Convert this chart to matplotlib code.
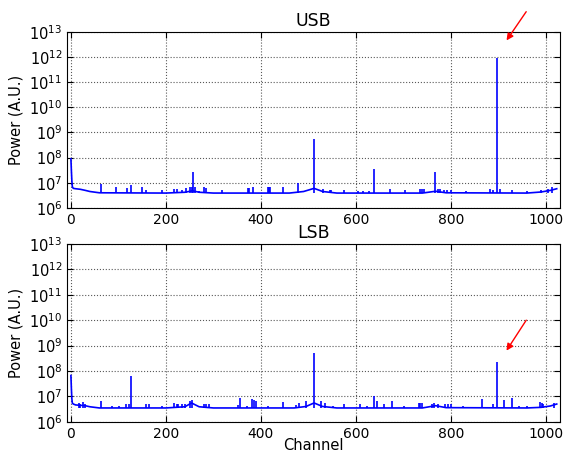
import numpy as np
import matplotlib; matplotlib.use('Agg'); import matplotlib.pyplot as plt

plt.rcParams.update({'font.size':10,'axes.titlesize':12.5,'axes.labelsize':10.5,
                     'xtick.labelsize':10,'ytick.labelsize':10.5,
                     'xtick.direction':'in','ytick.direction':'in',
                     'xtick.top':True,'ytick.right':True,
                     'xtick.major.size':4,'ytick.major.size':4,
                     'ytick.minor.size':2,'xtick.minor.size':2})

# baseline (slowly varying noise floor) knots, channel vs power
usb_base_ch = [0, 1, 2, 3, 5, 10, 20, 30, 40, 60, 200, 240, 256, 270, 300,
               460, 490, 512, 530, 560, 740, 768, 790, 960, 990, 1010, 1023]
usb_base_pw = [9e7, 3e7, 1.2e7, 7e6, 6e6, 5.8e6, 5.5e6, 5e6, 4.5e6, 4e6, 3.9e6, 4.2e6, 4.8e6, 4.2e6, 3.9e6,
               3.9e6, 4.5e6, 6e6, 4.5e6, 3.9e6, 3.9e6, 4.6e6, 4e6, 3.9e6, 4.3e6, 5e6, 5.8e6]
# narrow spikes, channel vs peak power
usb_spike_ch = [63, 94, 118, 126, 150, 159, 191, 218, 223, 233, 242, 250, 254, 258, 262, 269,
                281, 284, 319, 372, 375, 384, 414, 417, 420, 447, 479, 512, 530, 545, 548,
                576, 605, 615, 628, 639, 671, 704, 735, 739, 744, 767, 772, 778, 785, 792, 800,
                833, 882, 889, 897, 903, 929, 961, 990, 1004, 1014]
usb_spike_pw = [8.8e6, 7e6, 6e6, 8e6, 7e6, 5e6, 5e6, 5.5e6, 5.5e6, 5e6, 6e6, 6.5e6, 6.5e6, 2.8e7, 6.5e6, 4.8e6,
                6.5e6, 6e6, 5e6, 6e6, 6e6, 7e6, 6.5e6, 6.5e6, 6.5e6, 6.5e6, 9.6e6, 5.5e8, 5.5e6, 5e6, 5e6,
                5e6, 4.8e6, 4.8e6, 4.8e6, 3.5e7, 5.5e6, 5e6, 5.5e6, 5.5e6, 5.5e6, 2.6e7, 5.8e6, 5.5e6, 5.2e6, 5e6, 5e6,
                4.8e6, 5.5e6, 5e6, 9e11, 5.5e6, 5e6, 4.8e6, 5.2e6, 5.6e6, 6.8e6]
usb_floor = 3.9e6

lsb_base_ch = [0, 1, 2, 3, 5, 10, 30, 40, 60, 200, 240, 254, 270, 300,
               470, 495, 512, 530, 560, 740, 768, 790, 960, 990, 1010, 1023]
lsb_base_pw = [6.6e7, 2e7, 8e6, 5.5e6, 5e6, 4.6e6, 4.3e6, 3.9e6, 3.5e6, 3.5e6, 3.9e6, 5.5e6, 3.9e6, 3.5e6,
               3.5e6, 4e6, 5.5e6, 4e6, 3.5e6, 3.5e6, 4.3e6, 3.6e6, 3.5e6, 3.7e6, 4.2e6, 5e6]
lsb_spike_ch = [17, 20, 25, 30, 63, 86, 101, 116, 122, 126, 159, 165, 191, 218, 223, 226, 233, 240,
                251, 254, 281, 285, 290, 351, 356, 370, 382, 386, 389, 416, 447, 473, 480, 495,
                512, 527, 536, 551, 576, 608, 624, 639, 644, 659, 676, 702, 733, 736, 740,
                760, 765, 772, 787, 794, 801, 826, 865, 889, 898, 913, 929, 943, 961, 987, 991, 995, 1018]
lsb_spike_pw = [5.5e6, 5e6, 5.8e6, 5e6, 6.3e6, 4e6, 4.3e6, 5e6, 5e6, 6.6e7, 5e6, 5e6, 4e6, 5.5e6, 5e6, 5e6, 5e6, 5e6,
                6.5e6, 7.4e6, 5e6, 5e6, 5e6, 4.5e6, 9e6, 4e6, 8e6, 7e6, 6.5e6, 4.3e6, 5.8e6, 4.5e6, 5.5e6, 6.5e6,
                5.3e8, 6.5e6, 5.5e6, 4e6, 5.2e6, 5e6, 4.3e6, 1.05e7, 6.5e6, 5e6, 6.5e6, 4e6, 5.5e6, 5.5e6, 5.5e6,
                5e6, 5.5e6, 5e6, 5e6, 5e6, 4.8e6, 4e6, 7.8e6, 4.8e6, 2.2e8, 7e6, 9e6, 4e6, 4e6, 6e6, 5.5e6, 5e6, 5.5e6]
lsb_floor = 3.5e6

# arrows pointing at the tone (channel, power): tail, head
usb_arrow = [(962, 7.8e13), (914, 3.7e12)]
lsb_arrow = [(962, 1.23e10), (914, 5.1e8)]

fig = plt.figure(figsize=(5.64, 4.55), dpi=100)
ax1 = fig.add_axes([0.119, 0.543, 0.874, 0.387])
ax2 = fig.add_axes([0.119, 0.073, 0.874, 0.391])

panels = [(ax1, 'USB', usb_base_ch, usb_base_pw, usb_spike_ch, usb_spike_pw, usb_floor, usb_arrow),
          (ax2, 'LSB', lsb_base_ch, lsb_base_pw, lsb_spike_ch, lsb_spike_pw, lsb_floor, lsb_arrow)]
for ax, title, bch, bpw, sch, spw, floor, arr in panels:
    ax.plot(bch, bpw, color='b', lw=1.2)
    ax.vlines(sch, floor, spw, color='b', lw=1.2)
    ax.set_yscale('log')
    ax.set_ylim(1e6, 1e13)
    ax.set_xlim(-8, 1030)
    ax.set_xticks([0, 200, 400, 600, 800, 1000])
    ax.set_yticks([10.0**k for k in range(6, 14)])
    ax.grid(True, color='0.35', ls=':', lw=0.8)
    ax.set_ylabel('Power (A.U.)')
    ax.set_title(title, pad=4)
    ax.annotate('', xy=arr[1], xytext=arr[0], annotation_clip=False,
                arrowprops=dict(arrowstyle='-|>', color='red', lw=1, mutation_scale=10))
ax2.set_xlabel('Channel', labelpad=-2)

fig.savefig('out.png', dpi=100)
